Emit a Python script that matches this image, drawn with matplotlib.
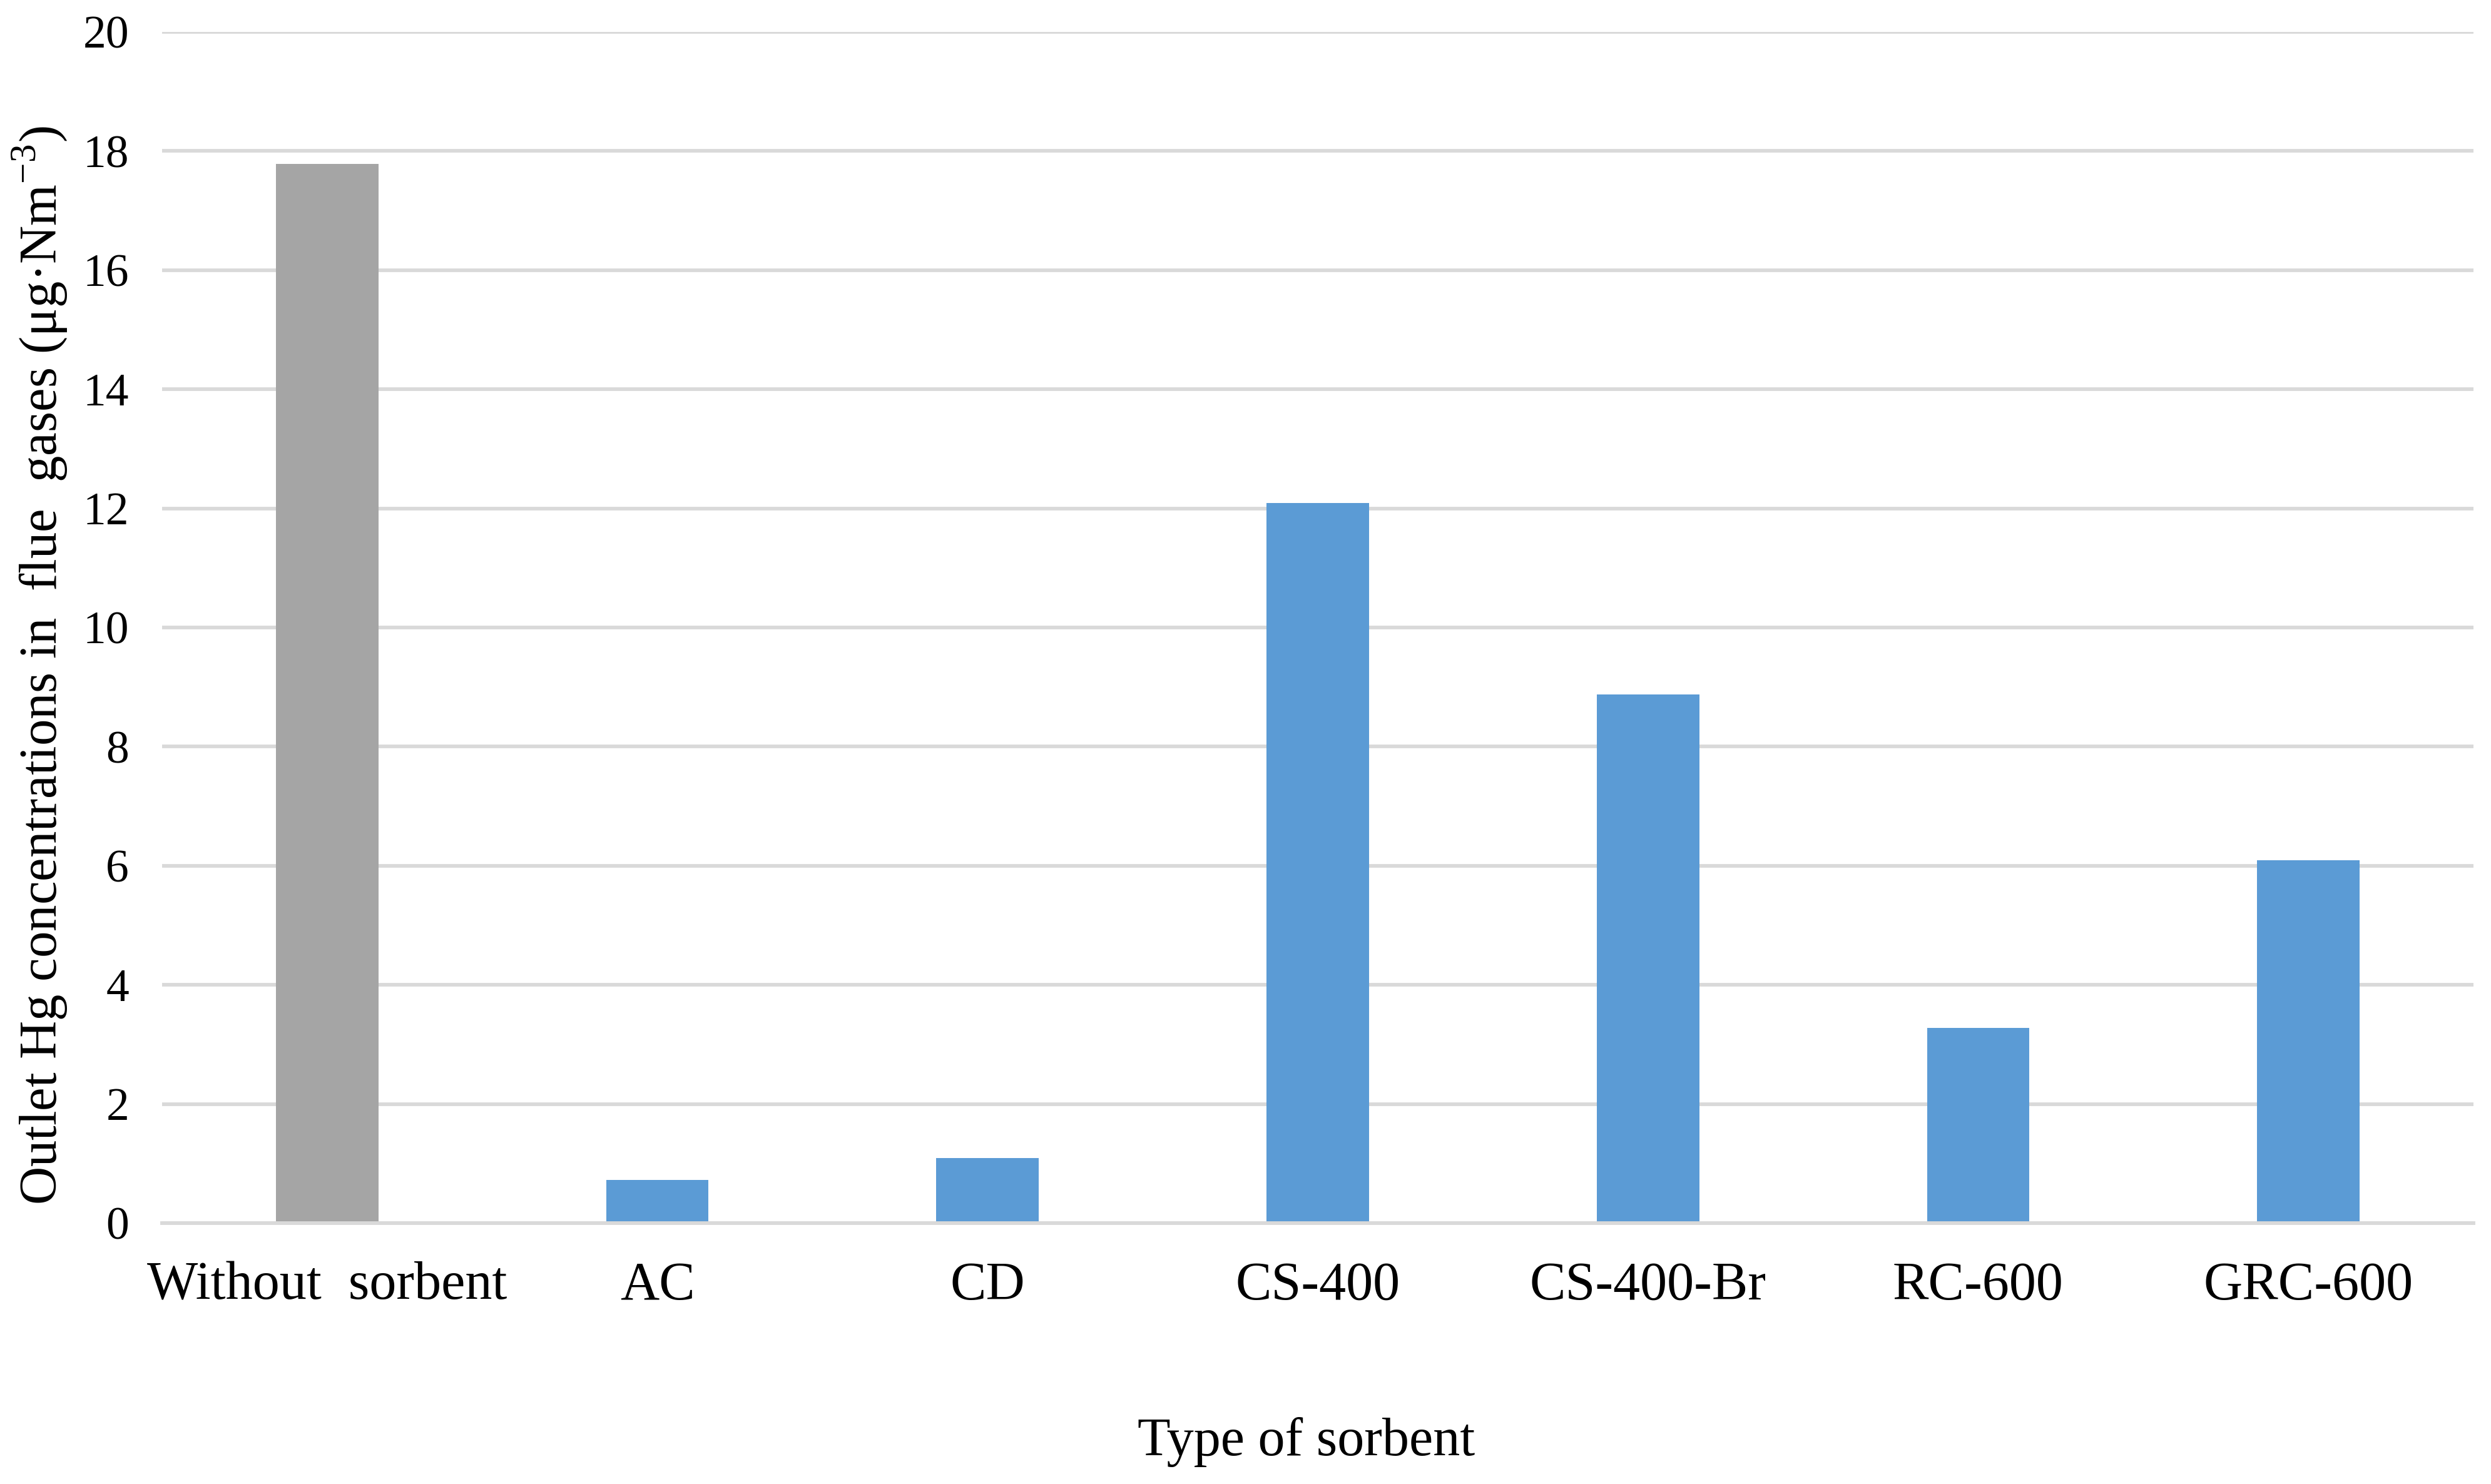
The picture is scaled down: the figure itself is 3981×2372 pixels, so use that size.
import matplotlib
matplotlib.use("Agg")
import matplotlib.pyplot as plt

categories = ["Without  sorbent", "AC", "CD", "CS-400", "CS-400-Br", "RC-600", "GRC-600"]
values = [17.78, 0.72, 1.09, 12.09, 8.88, 3.28, 6.09]
bar_colors = ["#a5a5a5", "#5b9bd5", "#5b9bd5", "#5b9bd5", "#5b9bd5", "#5b9bd5", "#5b9bd5"]
yticks = [0, 2, 4, 6, 8, 10, 12, 14, 16, 18, 20]

plt.rcParams['font.family'] = ['Liberation Serif', 'DejaVu Serif']
plt.rcParams['mathtext.fontset'] = 'custom'
plt.rcParams['mathtext.rm'] = 'Liberation Serif'

W, H, DPI = 3981, 2372, 100
fig = plt.figure(figsize=(W / DPI, H / DPI), dpi=DPI)
ax = fig.add_axes([259 / W, 1 - 1955 / H, (3953 - 259) / W, (1955 - 51) / H])

x = list(range(len(categories)))
ax.bar(x, values, width=0.31, color=bar_colors, zorder=3)

ax.set_xlim(-0.5, len(categories) - 0.5)
ax.set_ylim(0, 20)
ax.set_yticks(yticks)
ax.set_yticklabels([str(t) for t in yticks], fontsize=53)
ax.set_xticks(x)
ax.set_xticklabels(categories, fontsize=62)

ax.grid(axis='y', color='#d9d9d9', linewidth=4.2, zorder=0)
ax.set_axisbelow(True)
for s in ['top', 'right', 'left']:
    ax.spines[s].set_visible(False)
ax.spines['bottom'].set_color('#d9d9d9')
ax.spines['bottom'].set_linewidth(4.2)
ax.spines['bottom'].set_zorder(4)
ax.tick_params(axis='both', length=0)
ax.tick_params(axis='y', pad=38)
ax.tick_params(axis='x', pad=44)

ax.set_xlabel("Type of sorbent", fontsize=62)
ax.xaxis.label.set_va('center')
ax.xaxis.set_label_coords(0.495, -(2305 - 1955) / 1904)

ax.set_ylabel("Outlet Hg concentrations in  flue  gases (μg·Nm$^{-3}$)", fontsize=61)
ax.yaxis.label.set_va('center')
ax.yaxis.set_label_coords((63 - 259) / 3694, (1955 - 1064) / 1904)

fig.savefig("out.png", dpi=DPI, facecolor='white')
